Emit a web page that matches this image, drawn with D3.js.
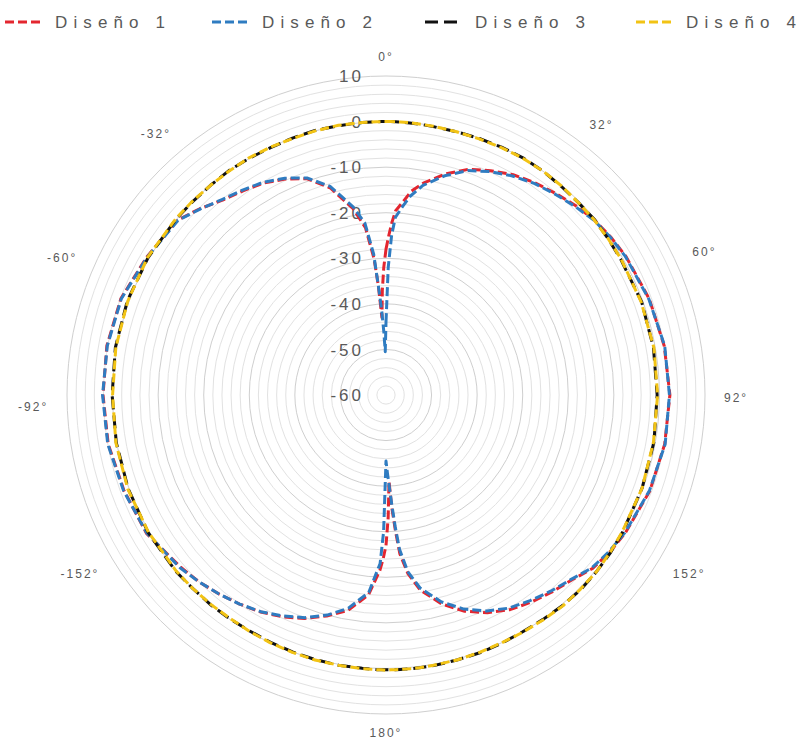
<!DOCTYPE html>
<html>
<head>
<meta charset="utf-8">
<title>Diagrama de radiación</title>
<script src="https://d3js.org/d3.v7.min.js"></script>
<style>
    body { margin: 0; background: #fff; }
    text { font-family: "Liberation Sans", Arial, sans-serif; fill: #595959; }
</style>
</head>
<body>
<script>

// angle of each measured point (degrees, clockwise from the top)
var angles = [0,1,2,3,5,7,10,15,20,25,30,35,40,45,50,55,60,70,80,90,100,110,120,125,130,135,140,145,150,155,
    160,165,170,173,175,176,177,178,179,180,181,182,185,190,195,200,205,210,215,220,225,230,240,250,260,270,280,290,300,310,
    315,320,325,330,335,340,345,350,353,355,356,357,358,359];

// gain in dB for each design
var diseno1 = [-28,-25,-22,-19.5,-17.5,-15,-12.8,-9.8,-7.3,-5.7,
    -4.2,-3.1,-2.2,-1.2,-0.3,0.3,0.8,1.5,2,2.3,
    2.1,1.6,0.6,0,-0.8,-2.5,-3.5,-4.5,-5.6,-7.3,
    -9.5,-12.5,-16.5,-20.5,-25,-30,-35,-41,-33,-27,
    -24,-21.5,-16,-12,-9.8,-7.8,-6.3,-5,-4,-3,
    -2,-1.2,0.7,1.2,1.9,2.1,2.2,1.9,0.6,-0.3,
    -2.2,-4.2,-5.3,-6.3,-7.7,-9.5,-13,-18.5,-23,-30,
    -36,-43,-37,-32];

var diseno2 = [-44,-32,-25,-21,-18.5,-16,-13.3,-10.2,-7.6,-5.9,
    -4.5,-3.3,-2.4,-1.4,-0.4,0.2,0.7,1.4,2.1,2.2,
    2.2,1.5,0.5,-0.2,-1,-2.7,-3.8,-4.9,-6,-7.7,
    -10,-13,-17,-21,-26,-31,-36,-40,-43,-45.5,
    -30,-23,-16.5,-12.5,-10,-8,-6.5,-5.1,-4,-3,
    -2,-1,0.6,1.3,2,2.2,2.1,1.8,0.5,-0.4,
    -2.3,-4,-5.1,-6.1,-7.5,-9.3,-12.6,-18,-22,-29,
    -36,-41,-46,-50.5];

var diseno3 = [0,0,0,0,-0.1,-0.1,-0.2,-0.2,-0.1,0,
    0.1,0,-0.2,-0.3,-0.2,-0.4,-0.5,-0.3,-0.4,-0.5,
    -0.3,-0.2,0,0.2,0.3,0.4,0.3,0.1,0,0.1,
    0.2,0.2,0.3,0.3,0.3,0.3,0.3,0.3,0.3,0.3,
    0.3,0.3,0.2,0.2,0.1,0,-0.1,-0.2,-0.1,0,
    0,0.2,0.3,0.2,0.1,0.1,0.3,0.4,0.3,0.1,
    0,0,0.1,0,-0.1,0,0.1,0,0,0,
    0,0,0,0];

var diseno4 = [0,0,0,0,0,-0.1,-0.1,-0.2,-0.2,-0.1,
    0,0,-0.1,-0.3,-0.3,-0.4,-0.4,-0.4,-0.3,-0.4,
    -0.4,-0.2,-0.1,0.1,0.3,0.3,0.4,0.2,0.1,0,
    0.1,0.2,0.2,0.3,0.3,0.3,0.3,0.3,0.3,0.4,
    0.3,0.3,0.3,0.2,0.2,0.1,0,-0.1,-0.2,-0.1,
    0,0.1,0.2,0.3,0.2,0,0.2,0.3,0.4,0.2,
    0.1,0,0,0.1,0,-0.1,0,0.1,0,0,
    0,0,0,0];

var seriesNames = ["Diseño 1", "Diseño 2", "Diseño 3", "Diseño 4"];

// radial axis labels and the category labels shown round the rim
var radialTicks = [10, 0, -10, -20, -30, -40, -50, -60];
var angleLabels = ["0°", "32°", "60°", "92°", "152°", "180°", "-152°", "-92°", "-60°", "-32°"];
var angleLabelPos = [0, 37, 65, 90.5, 122, 180, -122, -92, -66, -39.5];

var colors = ["#e3262f", "#2f7cc1", "#111111", "#f2c314"];
var dashes = ["9,4", "9,4", "13,6", "9,4"];

var width = 806, height = 742;
var cx = 386, cy = 395, R = 319;

var svg = d3.select("body").append("svg")
    .attr("width", width)
    .attr("height", height);

svg.append("rect").attr("width", width).attr("height", height).attr("fill", "#fff");

var r = d3.scaleLinear().domain([-60, 10]).range([0, R]);

var g = svg.append("g").attr("transform", "translate(" + cx + "," + cy + ")");

// concentric gridlines every 2 dB
g.selectAll("circle.grid")
    .data(d3.range(-58, 11, 2))
    .enter().append("circle")
    .attr("class", "grid")
    .attr("r", function(d) { return r(d); })
    .attr("fill", "none")
    .attr("stroke", function(d) { return d % 10 === 0 ? "#cfcfcf" : "#e2e2e2"; })
    .attr("stroke-width", 1);

// radial value labels
g.selectAll("text.rtick")
    .data(radialTicks)
    .enter().append("text")
    .attr("class", "rtick")
    .attr("x", -22)
    .attr("y", function(d) { return -r(d); })
    .attr("dy", "0.36em")
    .attr("text-anchor", "end")
    .attr("font-size", "17px")
    .attr("letter-spacing", "3px")
    .text(function(d) { return d; });

// angle labels
g.selectAll("text.alabel")
    .data(angleLabels)
    .enter().append("text")
    .attr("class", "alabel")
    .each(function(d, i) {
        var a = angleLabelPos[i] * Math.PI / 180;
        var s = Math.sin(a), rr = R + 19;
        d3.select(this)
            .attr("x", rr * s)
            .attr("y", -rr * Math.cos(a))
            .attr("dy", "0.35em")
            .attr("text-anchor", s > 0.2 ? "start" : (s < -0.2 ? "end" : "middle"));
    })
    .attr("font-size", "12px")
    .attr("letter-spacing", "2px")
    .attr("fill", "#6b6b6b")
    .text(function(d) { return d; });

// series lines
var allValues = [diseno1, diseno2, diseno3, diseno4];

var line = d3.lineRadial()
    .angle(function(d, i) { return angles[i] * Math.PI / 180; })
    .radius(function(d) { return r(d); })
    .curve(d3.curveLinearClosed);

g.selectAll("path.serie")
    .data(allValues)
    .enter().append("path")
    .attr("class", "serie")
    .attr("d", line)
    .attr("fill", "none")
    .attr("stroke", function(d, i) { return colors[i]; })
    .attr("stroke-width", 3)
    .attr("stroke-dasharray", function(d, i) { return dashes[i]; })
    .attr("stroke-linejoin", "round");

// legend
var legendX = [5, 212, 425, 636];
var legend = svg.selectAll("g.legend")
    .data(seriesNames)
    .enter().append("g")
    .attr("class", "legend")
    .attr("transform", function(d, i) { return "translate(" + legendX[i] + ",22)"; });

legend.append("line")
    .attr("x1", 0).attr("x2", 38)
    .attr("stroke", function(d, i) { return colors[i]; })
    .attr("stroke-width", 3)
    .attr("stroke-dasharray", function(d, i) { return i === 2 ? "13,6" : "9,4"; });

legend.append("text")
    .attr("x", 50)
    .attr("dy", "0.36em")
    .attr("font-size", "17px")
    .attr("textLength", 110)
    .attr("lengthAdjust", "spacing")
    .text(function(d) { return d; });

</script>
</body>
</html>
